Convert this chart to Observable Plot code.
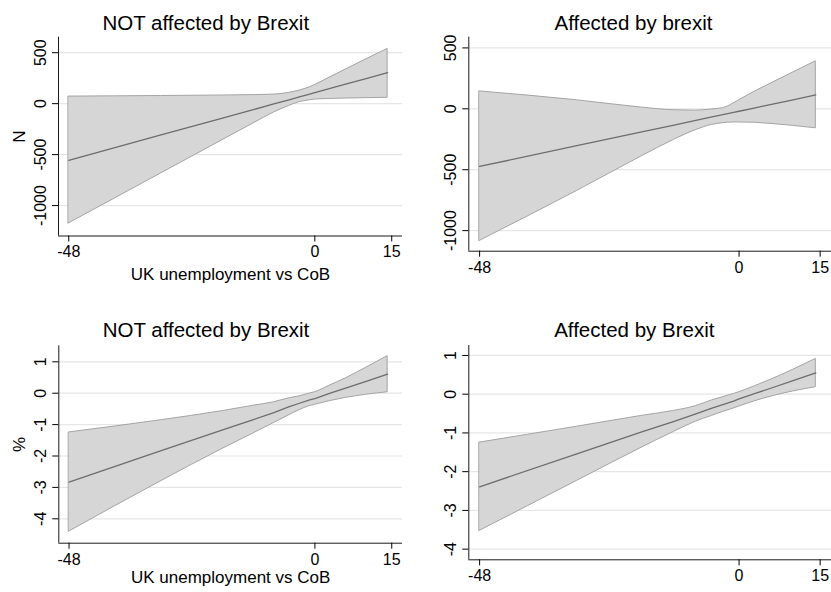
<!DOCTYPE html>
<html>
<head>
<meta charset="utf-8">
<script src="https://cdn.jsdelivr.net/npm/d3@7"></script>
<script src="https://cdn.jsdelivr.net/npm/@observablehq/plot@0.6"></script>
<style>
  html, body { margin: 0; padding: 0; background: #fff; }
  #graph { position: relative; width: 831px; height: 592px; overflow: hidden; background: #fff; }
  #graph svg { position: absolute; overflow: visible; }
</style>
</head>
<body>
<div id="graph"></div>
<script>
// UK unemployment vs country of birth (percentage points) at which margins are evaluated
const unemp = [-48, -30, -18, -12, -8, -5, -3, -1, 0, 3, 6, 10, 14.2];

// Outcome in levels (N), not affected by Brexit
const nNotFit   = [-556, -307, -141, -59, -3, 38, 66, 94, 108, 149, 191, 246, 304];
const nNotUpper = [69, 75, 80, 84, 89, 106, 128, 160, 182, 258, 334, 434, 537];
const nNotLower = [-1176, -685, -358, -195, -88, -22, 15, 33, 40, 46, 50, 54, 58];

// Outcome in levels (N), affected by Brexit
const nAffFit   = [-473, -303, -190, -133, -95, -67, -48, -29, -20, 8, 37, 74, 115];
const nAffUpper = [143, 70, 10, -12, -15, -5, 5, 44, 70, 143, 210, 298, 390];
const nAffLower = [-1085, -675, -390, -254, -175, -132, -118, -112, -112, -115, -124, -140, -160];

// Outcome in percent, not affected by Brexit
const pNotFit   = [-2.83, -1.83, -1.17, -0.84, -0.62, -0.43, -0.32, -0.21, -0.17, 0.0, 0.16, 0.38, 0.61];
const pNotUpper = [-1.25, -0.86, -0.57, -0.40, -0.29, -0.16, -0.10, -0.01, 0.03, 0.25, 0.47, 0.81, 1.18];
const pNotLower = [-4.41, -2.80, -1.77, -1.28, -0.95, -0.70, -0.54, -0.41, -0.37, -0.25, -0.15, -0.05, 0.03];

// Outcome in percent, affected by Brexit
const pAffFit   = [-2.39, -1.54, -0.97, -0.70, -0.51, -0.36, -0.27, -0.18, -0.12, 0.02, 0.16, 0.35, 0.55];
const pAffUpper = [-1.25, -0.84, -0.56, -0.43, -0.31, -0.16, -0.08, 0.005, 0.05, 0.21, 0.38, 0.63, 0.91];
const pAffLower = [-3.53, -2.24, -1.38, -0.97, -0.71, -0.56, -0.46, -0.37, -0.32, -0.18, -0.06, 0.07, 0.18];

// Axis ticks
const xTicks = [-48, 0, 15];
const nTicks = [-1000, -500, 0, 500];
const pTicks = [-4, -3, -2, -1, 0, 1];

const FONT = "'Liberation Sans', Arial, Helvetica, sans-serif";
const xDomain = [-50, 17.1];

function rows(fit, lo, hi) {
  return unemp.map((x, i) => ({x, fit: fit[i], lo: lo[i], hi: hi[i]}));
}

function panel(o) {
  const data = rows(o.fit, o.lo, o.hi);
  const m = o.margin;
  const marks = [
    Plot.gridY(o.yTicks, {stroke: "#e6e6e6", strokeOpacity: 1, strokeWidth: 1.2}),
    Plot.areaY(data, {x: "x", y1: "lo", y2: "hi", fill: "#d6d6d6", stroke: "#a4a4a4", strokeWidth: 1, curve: "monotone-x"}),
    Plot.lineY(data, {x: "x", y: "fit", stroke: "#6d6d6d", strokeWidth: 1.3}),
    Plot.ruleX([o.xDomain[0]], {stroke: "#1a1a1a", strokeWidth: 1}),
    Plot.ruleY([o.yDomain[0]], {stroke: "#1a1a1a", strokeWidth: 1}),
    Plot.axisX(xTicks, {tickSize: 6, tickPadding: 4, fontSize: 16, tickFormat: d => String(d), label: null}),
    Plot.axisY(o.yTicks, {tickSize: 6, tickPadding: 7, tickRotate: -90, fontSize: 16, tickFormat: d => String(d), label: null}),
    Plot.text([o.title], {frameAnchor: "top-left", text: d => d, fontSize: 20.5, textAnchor: "middle", lineAnchor: "bottom",
      dx: o.titleX - m.left, dy: o.titleY - m.top, fill: "#000"})
  ];
  if (o.xTitle) marks.push(Plot.text([o.xTitle], {frameAnchor: "bottom", text: d => d, fontSize: 17, textAnchor: "middle",
    lineAnchor: "bottom", dy: o.xTitleY - (o.height - m.bottom), fill: "#000"}));
  if (o.yTitle) marks.push(Plot.text([o.yTitle], {frameAnchor: "left", text: d => d, fontSize: 17, textAnchor: "middle",
    lineAnchor: "bottom", rotate: -90, dx: o.yTitleX - m.left, fill: "#000"}));

  const svg = Plot.plot({
    width: o.width, height: o.height,
    marginLeft: m.left, marginRight: m.right, marginTop: m.top, marginBottom: m.bottom,
    x: {domain: o.xDomain},
    y: {domain: o.yDomain},
    style: {fontFamily: FONT, fontSize: "16px", color: "#000", background: "transparent"},
    marks
  });
  svg.style.left = o.left + "px";
  svg.style.top = o.top + "px";
  document.getElementById("graph").appendChild(svg);
}

panel({
  left: 0, top: 0, width: 415, height: 296,
  margin: {left: 58, right: 13, top: 36.7, bottom: 60.5},
  xDomain, yDomain: [-1298.6, 652], yTicks: nTicks,
  fit: nNotFit, lo: nNotLower, hi: nNotUpper,
  title: "NOT affected by Brexit", titleX: 205.3, titleY: 29.3,
  xTitle: "UK unemployment vs CoB", xTitleY: 279,
  yTitle: "N", yTitleX: 24
});

panel({
  left: 415, top: 0, width: 416, height: 296,
  margin: {left: 53.3, right: 0, top: 36.7, bottom: 45.3},
  xDomain, yDomain: [-1169, 588], yTicks: nTicks,
  fit: nAffFit, lo: nAffLower, hi: nAffUpper,
  title: "Affected by brexit", titleX: 218, titleY: 29.3
});

panel({
  left: 0, top: 296, width: 415, height: 296,
  margin: {left: 58.3, right: 13, top: 49.3, bottom: 49.3},
  xDomain, yDomain: [-4.777, 1.51], yTicks: pTicks,
  fit: pNotFit, lo: pNotLower, hi: pNotUpper,
  title: "NOT affected by Brexit", titleX: 205.5, titleY: 40.7,
  xTitle: "UK unemployment vs CoB", xTitleY: 286.5,
  yTitle: "%", yTitleX: 24
});

panel({
  left: 415, top: 296, width: 416, height: 296,
  margin: {left: 53.3, right: 0, top: 49, bottom: 32.7},
  xDomain, yDomain: [-4.275, 1.257], yTicks: pTicks,
  fit: pAffFit, lo: pAffLower, hi: pAffUpper,
  title: "Affected by Brexit", titleX: 218.8, titleY: 40.7
});
</script>
</body>
</html>
